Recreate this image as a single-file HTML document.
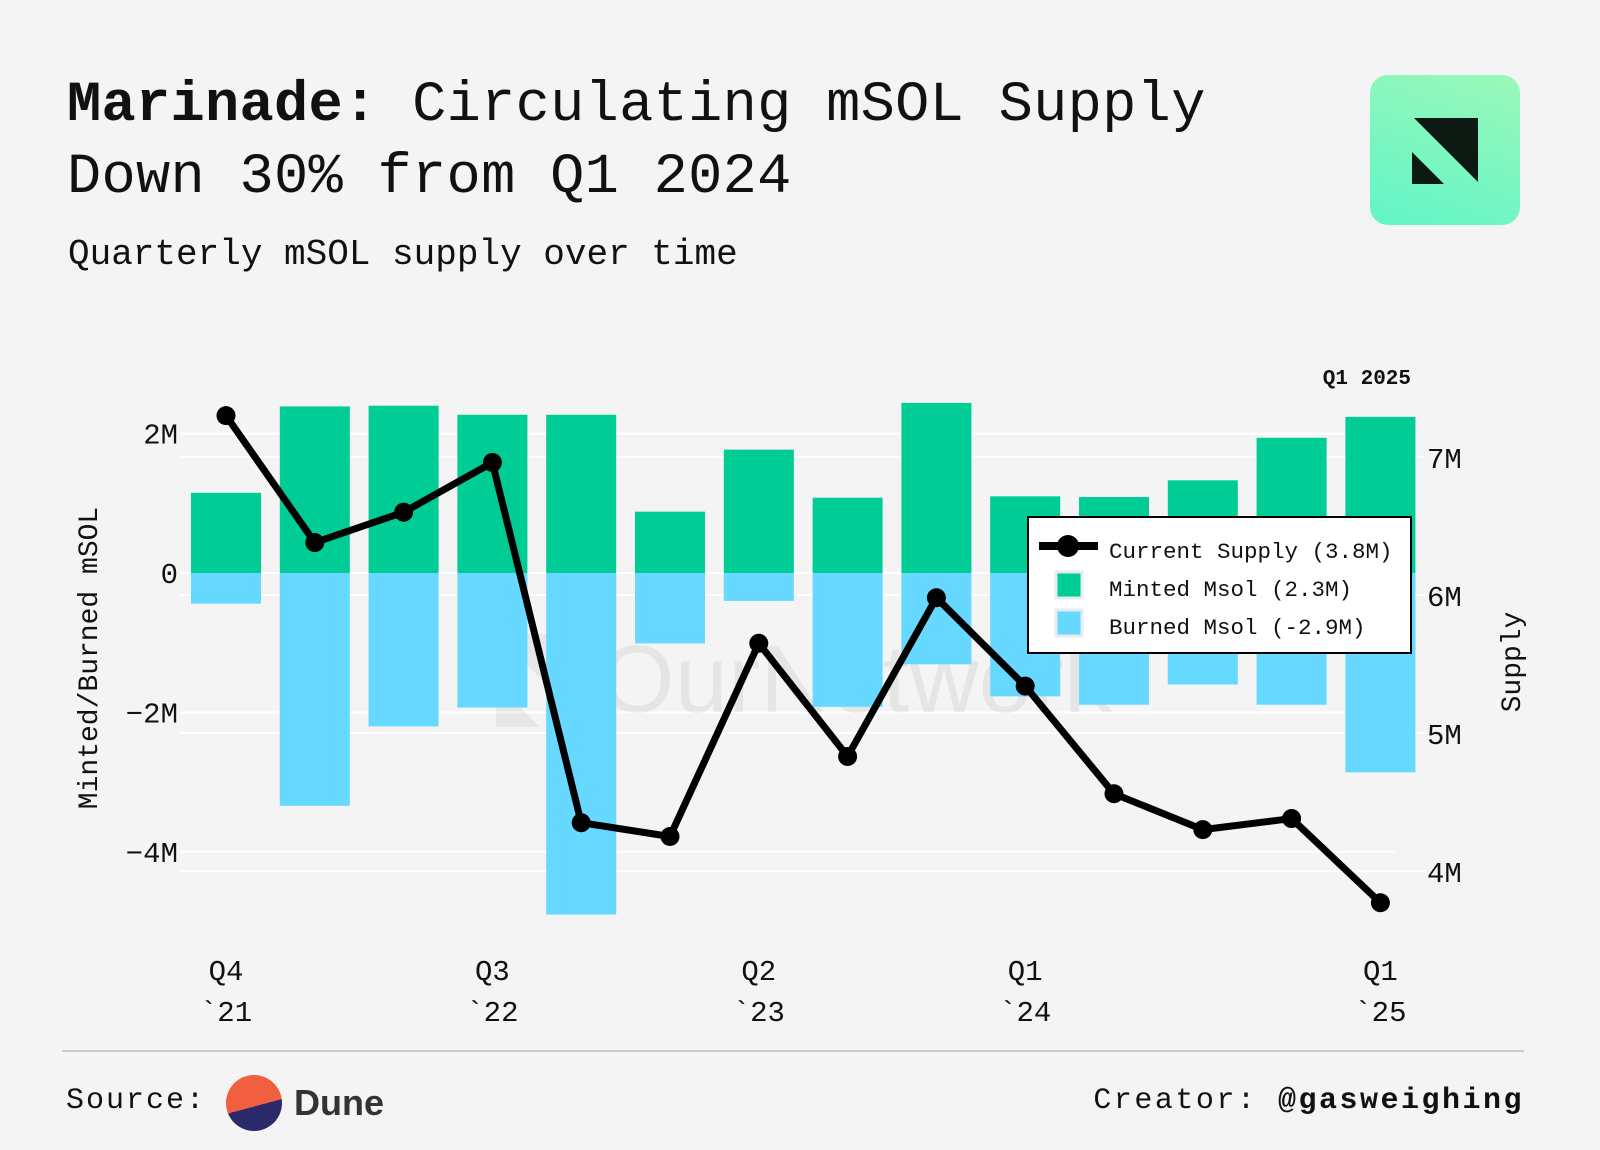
<!DOCTYPE html>
<html><head><meta charset="utf-8">
<style>
body{margin:0;background:#f4f4f4;width:1600px;height:1150px;overflow:hidden;font-family:"Liberation Mono",monospace;}
#root{position:relative;width:1600px;height:1150px;}
.t{position:absolute;white-space:nowrap;color:#111;}
</style></head><body>
<div id="root">
<div class="t" style="left:67px;top:70px;font-size:57px;line-height:72px;font-weight:normal;letter-spacing:0.3px;"><b>Marinade:</b> Circulating mSOL Supply<br>Down 30% from Q1 2024</div>
<div class="t" style="left:68px;top:234px;font-size:36px;">Quarterly mSOL supply over time</div>
<div style="position:absolute;left:1370px;top:75px;width:150px;height:150px;border-radius:18px;background:linear-gradient(200deg,#9af8b8,#62f5c8);">
<svg width="150" height="150" style="position:absolute;left:0;top:0"><polygon points="44,43 108,43 108,107" fill="#0d1a14"/><polygon points="42,77 42,109 74,109" fill="#0d1a14"/></svg></div>
<svg id="chart" width="1600" height="1150" style="position:absolute;left:0;top:0"></svg>
<div style="position:absolute;left:62px;top:1050px;width:1462px;height:2px;background:#ccc;"></div>
<div class="t" style="left:66px;top:1084px;font-size:30px;letter-spacing:2px;">Source:</div>
<div style="position:absolute;left:226px;top:1075px;width:56px;height:56px;border-radius:50%;overflow:hidden;background:linear-gradient(165deg,#f06040 0 55%,#2a2a6a 55% 100%);"></div>
<div class="t" style="left:294px;top:1082px;font-family:'Liberation Sans',sans-serif;font-weight:bold;font-size:36px;color:#333;">Dune</div>
<div class="t" style="right:76px;top:1084px;font-size:30px;letter-spacing:2.5px;">Creator: <b>@gasweighing</b></div>
</div>
<script>
const categories=["Q4 '21","Q1 '22","Q2 '22","Q3 '22","Q4 '22","Q1 '23","Q2 '23","Q3 '23","Q4 '23","Q1 '24","Q2 '24","Q3 '24","Q4 '24","Q1 '25"];
const minted=[1.15,2.39,2.40,2.27,2.27,0.88,1.77,1.08,2.44,1.10,1.09,1.33,1.94,2.24];
const burned=[-0.44,-3.34,-2.20,-1.93,-4.90,-1.01,-0.40,-1.92,-1.31,-1.77,-1.89,-1.60,-1.89,-2.86];
const supply=[7.30,6.38,6.60,6.96,4.35,4.25,5.65,4.83,5.98,5.34,4.56,4.30,4.38,3.77];
const leftTicks=[2,0,-2,-4];
const leftTickLabels=["2M","0","−2M","−4M"];
const rightTicks=[7,6,5,4];
const rightTickLabels=["7M","6M","5M","4M"];
const xLabelIdx=[0,3,6,9,13];
const xLabels=[["Q4","`21"],["Q3","`22"],["Q2","`23"],["Q1","`24"],["Q1","`25"]];

const svg=document.getElementById('chart');
const NS='http://www.w3.org/2000/svg';
const x=i=>226+i*88.8;
const yL=v=>573-v*69.7;
const yR=v=>595-(v-6)*138;
function mk(tag,a,parent){const e=document.createElementNS(NS,tag);for(const k in a)e.setAttribute(k,a[k]);(parent||svg).appendChild(e);return e;}

leftTicks.forEach((v,i)=>{
  const l=mk('line',{x1:180,x2:1395,y1:yL(v),y2:yL(v),stroke:'#fff','stroke-width':2});
  
  
  const t=mk('text',{x:178,y:yL(v)+10,'text-anchor':'end','font-size':29,fill:'#111','font-family':'Liberation Mono, monospace'});
  t.textContent=leftTickLabels[i];
  
  
});
rightTicks.forEach((v,i)=>{
  const l=mk('line',{x1:180,x2:1425,y1:yR(v),y2:yR(v),stroke:'#fff','stroke-width':2});
  
  
  const t=mk('text',{x:1427,y:yR(v)+11,'font-size':29,fill:'#111','font-family':'Liberation Mono, monospace'});
  t.textContent=rightTickLabels[i];
  
  
});
const wm=mk('text',{x:600,y:712,'font-size':96,fill:'#000','fill-opacity':0.06,'font-family':'Liberation Sans, sans-serif'});
wm.textContent='OurNetwork';


const wmi=mk('polygon',{points:'496,634 580,634 580,718 496,634 496,727 540,727 496,683',fill:'#000','fill-opacity':0.05});


categories.forEach((c,i)=>{
  const m=mk('rect',{x:x(i)-35,width:70,y:yL(minted[i]),height:yL(0)-yL(minted[i]),fill:'#00cc96'});
  
  
  const b=mk('rect',{x:x(i)-35,width:70,y:yL(0),height:yL(burned[i])-yL(0),fill:'#67d8ff'});
  
  
});
const pl=mk('polyline',{points:supply.map((v,i)=>x(i)+','+yR(v)).join(' '),fill:'none',stroke:'#000','stroke-width':7,'stroke-linejoin':'round'});


supply.forEach((v,i)=>{
  const c=mk('circle',{cx:x(i),cy:yR(v),r:9.5,fill:'#000'});
  
  
});
xLabelIdx.forEach((idx,k)=>{
  [0,1].forEach(r=>{
    const t=mk('text',{x:x(idx),y:980+r*41,'text-anchor':'middle','font-size':29,fill:'#111','font-family':'Liberation Mono, monospace'});
    t.textContent=xLabels[k][r];
    
    
  });
});
const yt=mk('text',{x:0,y:0,transform:'translate(97,658) rotate(-90)','text-anchor':'middle','font-size':28,fill:'#111','font-family':'Liberation Mono, monospace'});
yt.textContent='Minted/Burned mSOL';


const rt=mk('text',{x:0,y:0,transform:'translate(1520,662) rotate(-90)','text-anchor':'middle','font-size':28,fill:'#111','font-family':'Liberation Mono, monospace'});
rt.textContent='Supply';


const qa=mk('text',{x:1411,y:384,'text-anchor':'end','font-size':21,'font-weight':'bold',fill:'#111','font-family':'Liberation Mono, monospace'});
qa.textContent='Q1 2025';


const lg=mk('g',{});


mk('rect',{x:1028,y:517,width:383,height:136,fill:'#fff',stroke:'#000','stroke-width':2},lg);
mk('line',{x1:1039,x2:1098,y1:546,y2:546,stroke:'#000','stroke-width':8},lg);
mk('circle',{cx:1068,cy:546,r:11,fill:'#000'},lg);
mk('rect',{x:1056,y:572,width:26,height:26,fill:'#00cc96',stroke:'#e6ecf2','stroke-width':3},lg);
mk('rect',{x:1056,y:610,width:26,height:26,fill:'#67d8ff',stroke:'#e6ecf2','stroke-width':3},lg);
[["Current Supply (3.8M)",558],["Minted Msol (2.3M)",596],["Burned Msol (-2.9M)",634]].forEach(([s,yy])=>{
  const t=mk('text',{x:1109,y:yy,'font-size':22.5,fill:'#111','font-family':'Liberation Mono, monospace'},lg);
  t.textContent=s;
  
  
});
</script>
</body></html>
